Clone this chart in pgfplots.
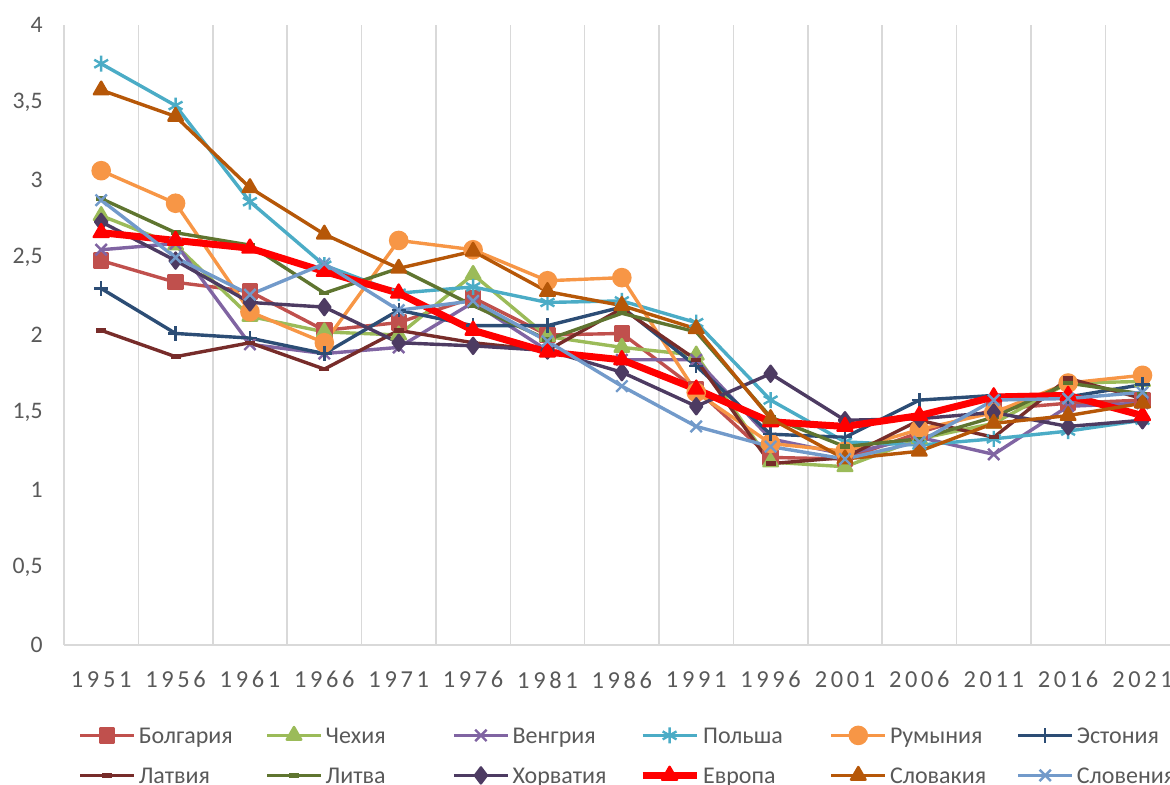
\documentclass[border=0pt]{standalone}
\usepackage{fontspec}
\setmainfont{Carlito}
\usepackage{pgfplots}
\usepackage{pgfplotstable}
\pgfplotsset{compat=1.18}
\definecolor{cBG}{HTML}{C0504D}
\definecolor{cCZ}{HTML}{9BBB59}
\definecolor{cHU}{HTML}{8064A2}
\definecolor{cPL}{HTML}{4BACC6}
\definecolor{cRO}{HTML}{F79646}
\definecolor{cEE}{HTML}{2C4D75}
\definecolor{cLV}{HTML}{772C2A}
\definecolor{cLT}{HTML}{5F7530}
\definecolor{cHR}{HTML}{4D3B62}
\definecolor{cEU}{HTML}{FF0000}
\definecolor{cSK}{HTML}{B65708}
\definecolor{cSI}{HTML}{729ACA}
\definecolor{cText}{HTML}{595959}
\definecolor{cGrid}{HTML}{D9D9D9}

\pgfplotstableread{
x  bg   cz   hu   pl   ro   ee   lv   lt   hr   eu   sk   si
0  2.48 2.77 2.55 3.75 3.06 2.30 2.03 2.88 2.73 2.66 3.58 2.87
1  2.34 2.58 2.59 3.48 2.85 2.01 1.86 2.66 2.48 2.61 3.41 2.50
2  2.28 2.12 1.94 2.86 2.15 1.98 1.95 2.58 2.21 2.56 2.95 2.26
3  2.03 2.02 1.88 2.45 1.95 1.88 1.78 2.27 2.18 2.41 2.65 2.46
4  2.08 2.00 1.92 2.27 2.61 2.16 2.03 2.43 1.95 2.27 2.43 2.16
5  2.24 2.39 2.21 2.31 2.55 2.06 1.95 2.19 1.93 2.03 2.54 2.22
6  2.00 1.99 1.90 2.21 2.35 2.06 1.90 1.97 1.90 1.89 2.28 1.96
7  2.01 1.92 1.84 2.22 2.37 2.18 2.17 2.14 1.76 1.84 2.19 1.67
8  1.65 1.87 1.84 2.08 1.63 1.80 1.84 2.02 1.54 1.65 2.04 1.41
9  1.21 1.18 1.33 1.58 1.30 1.36 1.17 1.47 1.75 1.44 1.46 1.28
10 1.20 1.15 1.23 1.31 1.25 1.34 1.21 1.28 1.45 1.41 1.20 1.20
11 1.37 1.33 1.34 1.29 1.39 1.58 1.45 1.33 1.46 1.48 1.25 1.31
12 1.52 1.43 1.23 1.33 1.50 1.61 1.34 1.47 1.50 1.60 1.43 1.58
13 1.56 1.69 1.54 1.38 1.69 1.60 1.72 1.69 1.41 1.61 1.48 1.59
14 1.58 1.70 1.56 1.45 1.74 1.68 1.59 1.62 1.45 1.48 1.56 1.63
}\data

\pgfplotsset{
  ser/.style n args={3}{#1, line width=1.7pt, line join=round,
    mark=#2, mark size=#3,
    mark options={solid, fill=#1, draw=#1, line width=1.2pt}},
}
\newcommand{\lent}[1]{\makebox[64.75pt][l]{\hspace{1.5pt}#1}}

\begin{document}
\begin{tikzpicture}
\begin{axis}[
  width=553pt, height=310pt, scale only axis,
  xmin=-0.5, xmax=14.37, ymin=0, ymax=4,
  clip=false,
  axis x line*=bottom, axis y line*=left,
  x axis line style={draw=cGrid, line width=0.75pt, -},
  y axis line style={draw=none},
  xtick={0,...,14},
  xticklabels={1951,1956,1961,1966,1971,1976,1981,1986,1991,1996,2001,2006,2011,2016,2021},
  minor xtick={-0.5,0.5,...,13.5},
  xminorgrids,
  minor grid style={draw=cGrid, line width=0.75pt},
  ytick={0,0.5,...,4},
  major tick length=0pt, minor tick length=0pt,
  tick style={draw=none},
  /pgf/number format/.cd, use comma, fixed, precision=1, assume math mode=true,
  /pgfplots/.cd,
  yticklabel style={font=\fontsize{11.85}{14}\selectfont, text=cText, anchor=east, inner sep=0pt, xshift=-10.5pt},
  xticklabel style={font=\fontsize{12.2}{14}\selectfont\addfontfeatures{LetterSpace=15}, text=cText, anchor=north, inner sep=0pt, yshift=-13pt},
  legend columns=6,
  legend style={draw=none, fill=none, inner sep=0pt, column sep=0pt, row sep=0pt,
    at={(0,0)}, anchor=north west, xshift=7pt, yshift=-35pt,
    font=\fontsize{12}{14}\selectfont, text=cText,
    nodes={inner sep=0pt, text height=13.8pt, text depth=6.2pt}},
  legend cell align=left,
  legend image code/.code={\draw[mark repeat=2,mark phase=2,#1] plot coordinates {(0pt,0pt) (13.5pt,0pt) (27pt,0pt)};},
]
\coordinate (SW) at (rel axis cs:0,0);
\addplot[ser={cBG}{square*}{3.5pt}] table[x=x,y=bg]{\data};
\addlegendentry{\lent{Болгария}}
\addplot[ser={cCZ}{triangle*}{4.2pt}] table[x=x,y=cz]{\data};
\addlegendentry{\lent{Чехия}}
\addplot[ser={cHU}{x}{4pt}] table[x=x,y=hu]{\data};
\addlegendentry{\lent{Венгрия}}
\addplot[ser={cPL}{asterisk}{4pt}] table[x=x,y=pl]{\data};
\addlegendentry{\lent{Польша}}
\addplot[ser={cRO}{*}{4.3pt}] table[x=x,y=ro]{\data};
\addlegendentry{\lent{Румыния}}
\addplot[ser={cEE}{+}{3.6pt}] table[x=x,y=ee]{\data};
\addlegendentry{\lent{Эстония}}
\addplot[ser={cLV}{-}{2.5pt}, mark options={line width=2.2pt}] table[x=x,y=lv]{\data};
\addlegendentry{\lent{Латвия}}
\addplot[ser={cLT}{-}{2.5pt}, mark options={line width=2.2pt}] table[x=x,y=lt]{\data};
\addlegendentry{\lent{Литва}}
\addplot[ser={cHR}{diamond*}{4pt}] table[x=x,y=hr]{\data};
\addlegendentry{\lent{Хорватия}}
\addplot[ser={cEU}{triangle*}{4.3pt}, line width=3.5pt] table[x=x,y=eu]{\data};
\addlegendentry{\lent{Европа}}
\addplot[ser={cSK}{triangle*}{4.2pt}] table[x=x,y=sk]{\data};
\addlegendentry{\lent{Словакия}}
\addplot[ser={cSI}{x}{4pt}] table[x=x,y=si]{\data};
\addlegendentry{\lent{Словения}}
\end{axis}
\pgfresetboundingbox
\path[use as bounding box] ([shift={(-32pt,-70pt)}]SW) rectangle ([shift={(553pt,322.5pt)}]SW);
\end{tikzpicture}
\end{document}
